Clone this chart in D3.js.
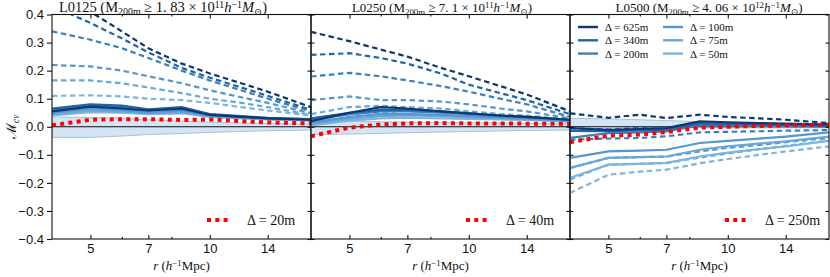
<!DOCTYPE html>
<html>
<head>
<meta charset="utf-8">
<script src="https://cdn.jsdelivr.net/npm/d3@7"></script>
<style>
  body { margin: 0; background: #fff; }
  svg { display: block; font-family: "Liberation Serif", "DejaVu Serif", serif; }
  .tick line { stroke: #111; stroke-width: 1.1; }
  .tick text { font-size: 13px; fill: #111; }
  .domain { display: none; }
</style>
</head>
<body>
<svg id="chart" width="830" height="277"></svg>
<script>
// r sampling (h^-1 Mpc)
const radii = [4, 5, 6, 7, 8.5, 10, 12, 14, 18];
const deltas = ["625m", "340m", "200m", "100m", "75m", "50m"];
const blues = ["#0b3773", "#2064a8", "#3a80c0", "#5596cd", "#68a7d8", "#7cb5df"];

const boxNames = ["L0125", "L0250", "L0500"];
const massCut = ["1. 83", "7. 1", "4. 06"];
const massExp = ["11", "11", "12"];
const redDelta = ["20m", "40m", "250m"];

// L0125
const l0125Dashed = [
  [0.52, 0.41, 0.34, 0.28, 0.225, 0.19, 0.155, 0.125, 0.07],
  [0.43, 0.37, 0.315, 0.265, 0.21, 0.175, 0.14, 0.11, 0.06],
  [0.34, 0.31, 0.28, 0.245, 0.2, 0.165, 0.13, 0.1, 0.055],
  [0.22, 0.215, 0.2, 0.18, 0.155, 0.13, 0.105, 0.085, 0.048],
  [0.165, 0.165, 0.155, 0.14, 0.12, 0.1, 0.085, 0.07, 0.042],
  [0.11, 0.112, 0.108, 0.1, 0.095, 0.085, 0.07, 0.058, 0.04]
];
const l0125Solid = [
  [0.055, 0.072, 0.065, 0.058, 0.065, 0.042, 0.035, 0.03, 0.025],
  [0.065, 0.08, 0.075, 0.062, 0.07, 0.045, 0.038, 0.032, 0.027],
  [0.06, 0.075, 0.07, 0.058, 0.062, 0.043, 0.036, 0.03, 0.026],
  [0.05, 0.065, 0.06, 0.052, 0.058, 0.04, 0.034, 0.029, 0.024],
  [0.045, 0.058, 0.055, 0.048, 0.052, 0.038, 0.032, 0.027, 0.023],
  [0.04, 0.052, 0.05, 0.045, 0.048, 0.035, 0.03, 0.026, 0.022]
];
const l0125Red = [0.005, 0.025, 0.027, 0.027, 0.024, 0.026, 0.02, 0.015, 0.012];
const l0125BandHi = [0.035, 0.033, 0.03, 0.025, 0.02, 0.016, 0.013, 0.012, 0.01];
const l0125BandLo = [-0.038, -0.038, -0.033, -0.028, -0.024, -0.02, -0.017, -0.014, -0.012];

// L0250
const l0250Dashed = [
  [0.338, 0.305, 0.275, 0.25, 0.21, 0.18, 0.145, 0.115, 0.055],
  [0.256, 0.262, 0.245, 0.225, 0.19, 0.15, 0.12, 0.095, 0.045],
  [0.179, 0.192, 0.18, 0.165, 0.145, 0.125, 0.1, 0.08, 0.035],
  [0.095, 0.108, 0.095, 0.095, 0.09, 0.08, 0.065, 0.055, 0.03],
  [0.045, 0.07, 0.075, 0.07, 0.065, 0.055, 0.045, 0.04, 0.025],
  [0.02, 0.045, 0.05, 0.045, 0.04, 0.035, 0.03, 0.028, 0.02]
];
const l0250Solid = [
  [0.02, 0.05, 0.07, 0.065, 0.055, 0.048, 0.04, 0.035, 0.025],
  [0.03, 0.05, 0.06, 0.06, 0.055, 0.048, 0.04, 0.035, 0.025],
  [0.025, 0.045, 0.055, 0.055, 0.05, 0.045, 0.038, 0.033, 0.024],
  [0.015, 0.035, 0.045, 0.045, 0.042, 0.038, 0.034, 0.03, 0.022],
  [0.01, 0.028, 0.038, 0.04, 0.038, 0.034, 0.03, 0.027, 0.02],
  [0.005, 0.022, 0.03, 0.032, 0.03, 0.028, 0.026, 0.024, 0.018]
];
const l0250Red = [-0.034, -0.003, 0.008, 0.012, 0.013, 0.012, 0.012, 0.011, 0.01];
const l0250BandHi = [0.02, 0.02, 0.018, 0.016, 0.015, 0.014, 0.013, 0.012, 0.011];
const l0250BandLo = [-0.028, -0.026, -0.024, -0.021, -0.019, -0.017, -0.015, -0.013, -0.012];

// L0500
const l0500Dashed = [
  [0.048, 0.032, 0.043, 0.031, 0.043, 0.035, 0.03, 0.025, 0.013],
  [-0.005, -0.01, -0.005, -0.008, 0.01, 0.008, 0.006, 0.005, 0.003],
  [-0.046, -0.042, -0.04, -0.034, -0.02, -0.018, -0.016, -0.014, -0.012],
  [-0.147, -0.111, -0.108, -0.106, -0.088, -0.075, -0.065, -0.055, -0.04],
  [-0.188, -0.135, -0.132, -0.129, -0.11, -0.095, -0.08, -0.068, -0.05],
  [-0.236, -0.171, -0.16, -0.153, -0.13, -0.115, -0.1, -0.088, -0.07]
];
const l0500Solid = [
  [-0.005, -0.011, -0.008, -0.005, 0.019, 0.016, 0.013, 0.011, 0.008],
  [-0.015, -0.016, -0.013, -0.01, 0.012, 0.01, 0.008, 0.007, 0.005],
  [-0.04, -0.023, -0.02, -0.017, 0.005, 0.004, 0.003, 0.002, 0.0],
  [-0.111, -0.088, -0.085, -0.082, -0.058, -0.05, -0.042, -0.035, -0.02],
  [-0.147, -0.111, -0.108, -0.106, -0.082, -0.07, -0.06, -0.052, -0.035],
  [-0.182, -0.135, -0.132, -0.129, -0.106, -0.092, -0.08, -0.07, -0.05]
];
const l0500Red = [-0.055, -0.032, -0.028, -0.019, -0.003, 0.0, 0.003, 0.005, 0.007];
const l0500BandHi = [0.03, 0.028, 0.025, 0.022, 0.018, 0.015, 0.012, 0.01, 0.008];
const l0500BandLo = [0.0, 0.0, -0.002, -0.003, -0.004, -0.004, -0.004, -0.004, -0.004];

const panels = [
  {dashed: l0125Dashed, solid: l0125Solid, red: l0125Red, hi: l0125BandHi, lo: l0125BandLo, titleX: 163, titleSize: 14.5},
  {dashed: l0250Dashed, solid: l0250Solid, red: l0250Red, hi: l0250BandHi, lo: l0250BandLo, titleX: 442, titleSize: 13},
  {dashed: l0500Dashed, solid: l0500Solid, red: l0500Red, hi: l0500BandHi, lo: l0500BandLo, titleX: 709, titleSize: 13}
];

const majorTicks = [5, 7, 10, 14];
const minorTicks = [6, 8];
const yTicks = d3.range(-4, 5).map(d => d / 10);

const left0 = 52, panelW = 259, plotTop = 14.5, plotBottom = 239;
const svg = d3.select("#chart");

const y = d3.scaleLinear().domain([-0.4, 0.4]).range([plotBottom, plotTop]);

// writes a list of [text, kind] runs into a <text>
function rich (sel, parts, size) {
    let shift = 0;
    parts.forEach(([t, kind]) => {
        const sub = kind && kind.includes("sub"), sup = kind && kind.includes("sup");
        const target = sub ? size * 0.22 : sup ? -size * 0.27 : 0;
        sel.append("tspan")
            .attr("dy", target - shift)
            .attr("font-size", (sub || sup) ? size * 0.68 : size)
            .attr("font-style", kind && kind.includes("it") ? "italic" : null)
            .text(t);
        shift = target;
    });
}

panels.forEach((p, i) => {
    const x0 = left0 + i * panelW, x1 = x0 + panelW;
    const x = d3.scaleLog().domain([4, 18]).range([x0, x1]);
    const g = svg.append("g");

    g.append("clipPath").attr("id", "clip" + i)
        .append("rect").attr("x", x0).attr("y", plotTop).attr("width", panelW).attr("height", plotBottom - plotTop);

    const plot = g.append("g").attr("clip-path", `url(#clip${i})`);

    const band = d3.area()
        .x((d, j) => x(radii[j]))
        .y0((d, j) => y(p.lo[j]))
        .y1(d => y(d));
    plot.append("path")
        .attr("d", band(p.hi))
        .attr("fill", "#c6dbef").attr("fill-opacity", 0.75)
        .attr("stroke", "#a7c1d8").attr("stroke-width", 1);

    plot.append("line")
        .attr("x1", x0).attr("x2", x1).attr("y1", y(0)).attr("y2", y(0))
        .attr("stroke", "#111").attr("stroke-width", 1.1);

    const line = d3.line().x((d, j) => x(radii[j])).y(d => y(d));

    p.dashed.forEach((vals, k) => {
        plot.append("path").attr("d", line(vals))
            .attr("fill", "none").attr("stroke", blues[k])
            .attr("stroke-width", 2.2).attr("stroke-dasharray", "5.5,3.5");
    });
    p.solid.slice().reverse().forEach((vals, k) => {
        plot.append("path").attr("d", line(vals))
            .attr("fill", "none").attr("stroke", blues[5 - k])
            .attr("stroke-width", 2.2);
    });
    plot.append("path").attr("d", line(p.red))
        .attr("fill", "none").attr("stroke", "#ff0000")
        .attr("stroke-width", 4).attr("stroke-dasharray", "4,4.3");

    // frame
    g.append("rect").attr("x", x0).attr("y", plotTop).attr("width", panelW).attr("height", plotBottom - plotTop)
        .attr("fill", "none").attr("stroke", "#111").attr("stroke-width", 1.1);

    // x axes
    g.append("g").attr("transform", `translate(0,${plotBottom})`)
        .call(d3.axisBottom(x).tickValues(majorTicks).tickFormat(d3.format("d"))
            .tickSize(-4).tickPadding(5));
    g.append("g").attr("transform", `translate(0,${plotBottom})`)
        .call(d3.axisBottom(x).tickValues(minorTicks).tickFormat("").tickSize(-2));
    g.append("g").attr("transform", `translate(0,${plotTop})`)
        .call(d3.axisTop(x).tickValues(majorTicks).tickFormat("").tickSize(-4));
    g.append("g").attr("transform", `translate(0,${plotTop})`)
        .call(d3.axisTop(x).tickValues(minorTicks).tickFormat("").tickSize(-2));

    // y axes
    if (i === 0) {
        g.append("g").attr("transform", `translate(${x0},0)`)
            .call(d3.axisLeft(y).tickValues(yTicks).tickFormat(d3.format(".1f")).tickSize(5).tickPadding(3));
    } else {
        g.append("g").attr("transform", `translate(${x0},0)`)
            .call(d3.axisRight(y).tickValues(yTicks).tickFormat("").tickSize(3.5));
    }
    g.append("g").attr("transform", `translate(${x1},0)`)
        .call(d3.axisLeft(y).tickValues(yTicks).tickFormat("").tickSize(3.5));

    // title
    const title = g.append("text").attr("x", p.titleX).attr("y", 12)
        .attr("text-anchor", "middle").attr("font-size", p.titleSize).attr("fill", "#111");
    rich(title, [
        [boxNames[i] + " (M"], ["200m", "sub"], [" \u2265 " + massCut[i] + " \u00d7 10"],
        [massExp[i], "sup"], ["h", "it"], ["\u22121", "sup"], ["M", "it"], ["\u2299", "sub"], [")"]
    ], p.titleSize);

    // x label
    const xl = g.append("text").attr("x", (x0 + x1) / 2).attr("y", 270)
        .attr("text-anchor", "middle").attr("font-size", 13).attr("fill", "#111");
    rich(xl, [["r", "it"], [" ("], ["h", "it"], ["\u22121", "sup"], ["Mpc)"]], 13);

    // red legend
    const ly = 220, lx = x1 - 104;
    g.append("line").attr("x1", lx).attr("x2", lx + 24).attr("y1", ly).attr("y2", ly)
        .attr("stroke", "#ff0000").attr("stroke-width", 4).attr("stroke-dasharray", "4,4.3");
    g.append("text").attr("x", lx + 40).attr("y", ly + 5)
        .attr("font-size", 14).attr("fill", "#111")
        .text("\u0394 = " + redDelta[i]);
});

// y label
const yl = svg.append("text")
    .attr("transform", `translate(16,${y(0)}) rotate(-90)`)
    .attr("text-anchor", "middle").attr("font-size", 14).attr("fill", "#111");
rich(yl, [["\u2133"], ["cv", "it sub"]], 14);

// Δ legend inside L0500
const legX = left0 + 2 * panelW + 8;
deltas.forEach((d, k) => {
    const col = Math.floor(k / 3), row = k % 3;
    const lx = legX + col * 85, ly = 27 + row * 13.3;
    svg.append("line").attr("x1", lx).attr("x2", lx + 20).attr("y1", ly).attr("y2", ly)
        .attr("stroke", blues[k]).attr("stroke-width", 2.4);
    svg.append("text").attr("x", lx + 27).attr("y", ly + 4)
        .attr("font-size", 11).attr("fill", "#111")
        .text("\u0394 = " + d);
});
</script>
</body>
</html>
